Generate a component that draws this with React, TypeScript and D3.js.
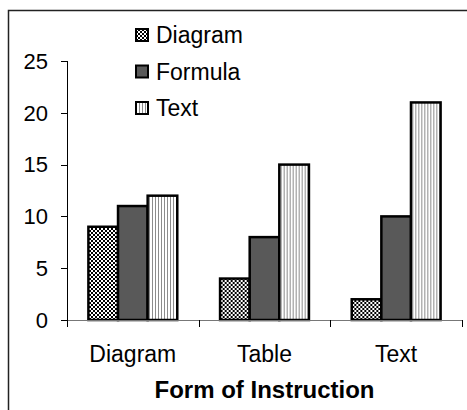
import React from 'react';
import * as d3 from 'd3';

const categories = ['Diagram', 'Table', 'Text'];
const seriesNames = ['Diagram', 'Formula', 'Text'];
const diagramValues = [9, 4, 2];
const formulaValues = [11, 8, 10];
const textValues = [12, 15, 21];
const yTicks = [0, 5, 10, 15, 20, 25];

const seriesValues = [diagramValues, formulaValues, textValues];
const fills = ['url(#checker)', '#595959', 'url(#stripes)'];

const width = 467;
const height = 410;
const font = 'Arial, "Liberation Sans", sans-serif';

export default function App() {
  const x0 = d3.scaleBand<string>().domain(categories).range([67, 462]).padding(0);
  const bw = x0.bandwidth();
  const x1 = d3
    .scaleBand<string>()
    .domain(seriesNames)
    .range([bw * 0.1625, bw * 0.8375])
    .padding(0);
  const y = d3.scaleLinear().domain([0, 25]).range([320, 61]);

  const legendY = d3.scalePoint<string>().domain(seriesNames).range([35, 108]);

  return (
    <svg
      width={width}
      height={height}
      style={{ position: 'absolute', left: 0, top: 0, background: '#fff' }}
    >
      <defs>
        <pattern id="checker" width="4" height="4" patternUnits="userSpaceOnUse">
          <rect width="4" height="4" fill="#fff" />
          <rect width="2" height="2" fill="#000" />
          <rect x="2" y="2" width="2" height="2" fill="#000" />
        </pattern>
        <pattern id="stripes" width="3" height="3" patternUnits="userSpaceOnUse">
          <rect width="3" height="3" fill="#fff" />
          <rect x="1" width="1" height="3" fill="#8c8c8c" />
        </pattern>
      </defs>

      {/* outer frame (cropped at right and bottom) */}
      <path d="M8.5,420 V10.5 H480" fill="none" stroke="#222" strokeWidth={1.5} />

      {/* y axis */}
      <line x1={67.5} x2={67.5} y1={y(25)} y2={y(0)} stroke="#000" strokeWidth={1} />
      {yTicks.map((t) => (
        <g key={t}>
          <line x1={61} x2={67.5} y1={Math.round(y(t)) + 0.5} y2={Math.round(y(t)) + 0.5} stroke="#000" />
          <text
            x={48}
            y={y(t)}
            dy="0.35em"
            textAnchor="end"
            fontFamily={font}
            fontSize={22}
            fill="#000"
          >
            {t}
          </text>
        </g>
      ))}

      {/* bars */}
      {categories.map((c, ci) => (
        <g key={c} transform={`translate(${x0(c)},0)`}>
          {seriesNames.map((s, si) => (
            <rect
              key={s}
              x={x1(s)}
              y={y(seriesValues[si][ci])}
              width={x1.bandwidth()}
              height={y(0) - y(seriesValues[si][ci])}
              fill={fills[si]}
              stroke="#000"
              strokeWidth={2.5}
            />
          ))}
        </g>
      ))}

      {/* x axis */}
      <line x1={67} x2={462} y1={320.5} y2={320.5} stroke="#777" strokeWidth={1} />
      {[...categories.map((c) => x0(c) as number), 462].map((tx, i) => (
        <line
          key={i}
          x1={Math.round(tx) + 0.5}
          x2={Math.round(tx) + 0.5}
          y1={320}
          y2={327}
          stroke="#000"
        />
      ))}
      {categories.map((c) => (
        <text
          key={c}
          x={(x0(c) as number) + bw / 2}
          y={362}
          textAnchor="middle"
          fontFamily={font}
          fontSize={23}
          fill="#000"
        >
          {c}
        </text>
      ))}
      <text
        x={264.5}
        y={398}
        textAnchor="middle"
        fontFamily={font}
        fontSize={24}
        fontWeight="bold"
        fill="#000"
      >
        Form of Instruction
      </text>

      {/* legend */}
      {seriesNames.map((s, si) => (
        <g key={s} transform={`translate(0,${legendY(s)})`}>
          <rect x={136} y={-6} width={12} height={12} fill={fills[si]} stroke="#000" strokeWidth={2} />
          <text x={156} y={0} dy="0.35em" fontFamily={font} fontSize={23} fill="#000">
            {s}
          </text>
        </g>
      ))}
    </svg>
  );
}
